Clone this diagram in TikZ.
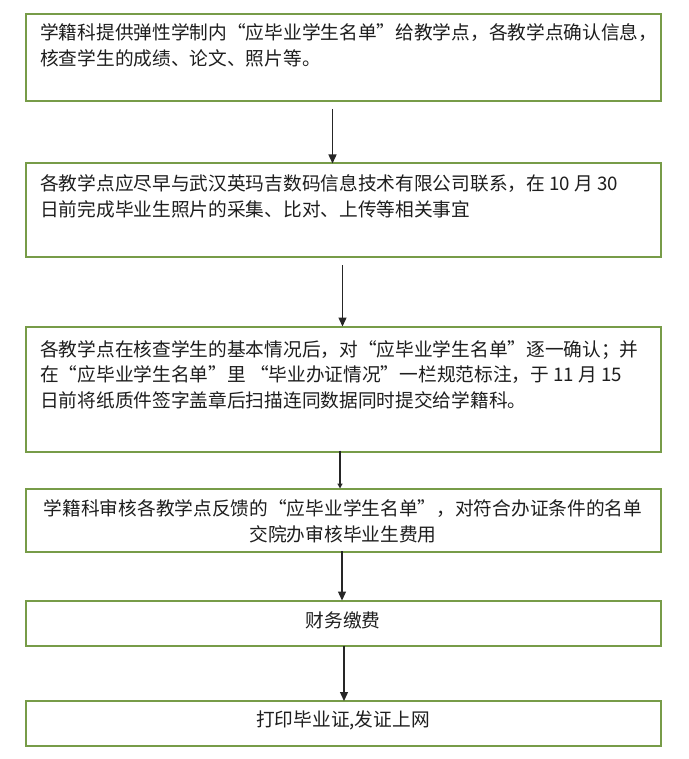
\documentclass[tikz,border=0pt]{standalone}
\usepackage{fontspec}
\newfontfamily\cjk{Noto Sans CJK SC}
\usetikzlibrary{arrows.meta}
\definecolor{boxgreen}{RGB}{119,156,72}
\definecolor{txt}{RGB}{30,30,30}
\tikzset{
  stepbox/.style={draw=boxgreen, line width=2pt, fill=white},
  ln/.style={anchor=base west, inner sep=0pt, text=txt, font=\cjk\fontsize{18.7}{22}\selectfont},
  lnc/.style={anchor=base, inner sep=0pt, text=txt, font=\cjk\fontsize{18.7}{22}\selectfont},
  arr/.style={draw=black!85, line width=1.3pt, -{Triangle[length=9pt,width=8pt]}},
  arrs/.style={draw=black!85, line width=1.3pt, -{Triangle[length=5pt,width=5pt]}}
}
\begin{document}
\begin{tikzpicture}[x=1pt,y=-1pt]
\useasboundingbox (0,0) rectangle (688,759);
% boxes
\draw[stepbox] (26,14) rectangle (660.5,101.5) node[coordinate] (b1se) {};
\path (343,14) coordinate (b1n) (343,101.5) coordinate (b1s);
\draw[stepbox] (26,163.5) rectangle (660.5,256.5);
\path (343,163.5) coordinate (b2n) (343,256.5) coordinate (b2s);
\draw[stepbox] (26,326.5) rectangle (660.5,452);
\path (343,326.5) coordinate (b3n) (343,452) coordinate (b3s);
\draw[stepbox] (26,488.5) rectangle (660.5,551.5);
\path (343,488.5) coordinate (b4n) (343,551.5) coordinate (b4s);
\draw[stepbox] (26,600.5) rectangle (660.5,645.5);
\path (343,600.5) coordinate (b5n) (343,645.5) coordinate (b5s);
\draw[stepbox] (26,701) rectangle (660.5,746);
\path (343,701) coordinate (b6n);
% texts
\node[ln] (t1a) at (40,40) {学籍科提供弹性学制内“应毕业学生名单”给教学点，各教学点确认信息，};
\node[ln] (t1b) at (40,66) {核查学生的成绩、论文、照片等。};
\node[ln] (t2a) at (40,191) {各教学点应尽早与武汉英玛吉数码信息技术有限公司联系，在 10 月 30};
\node[ln] (t2b) at (40,217) {日前完成毕业生照片的采集、比对、上传等相关事宜};
\node[ln] (t3a) at (40,356) {各教学点在核查学生的基本情况后，对“应毕业学生名单”逐一确认；并};
\node[ln] (t3b) at (40,381.5) {在“应毕业学生名单”里 “毕业办证情况”一栏规范标注，于 11 月 15};
\node[ln] (t3c) at (40,407) {日前将纸质件签字盖章后扫描连同数据同时提交给学籍科。};
\node[lnc] (t4a) at (343,515) {学籍科审核各教学点反馈的“应毕业学生名单”，对符合办证条件的名单};
\node[lnc] (t4b) at (343,541) {交院办审核毕业生费用};
\node[lnc] (t5) at (343,627) {财务缴费};
\node[lnc] (t6) at (343,726) {打印毕业证,发证上网};
% connectors
\coordinate (a1) at (332.5,109);
\draw[arr] (a1) -- (a1 |- b2n);
\coordinate (a2) at (342.5,265);
\draw[arr] (a2) -- (a2 |- b3n);
\coordinate (a3) at (340,450.5);
\draw[arrs] (a3) -- (a3 |- b4n);
\coordinate (a4) at (342,551);
\draw[arr] (a4) -- (a4 |- b5n);
\coordinate (a5) at (344,646);
\draw[arr] (a5) -- (a5 |- b6n);
\end{tikzpicture}
\end{document}
